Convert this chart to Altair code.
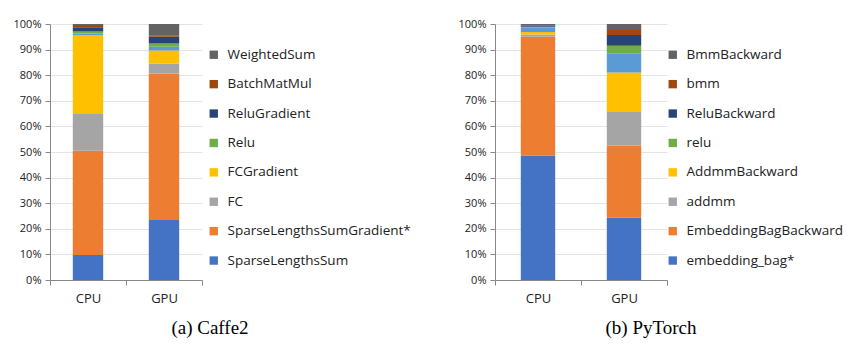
import altair as alt
import pandas as pd

platforms = ["CPU", "GPU"]

caffe_series = ["SparseLengthsSum", "SparseLengthsSumGradient*", "FC", "FCGradient",
                "Other ops", "Relu", "ReluGradient", "BatchMatMul", "WeightedSum"]
caffe_cpu = [9.8, 40.7, 14.6, 30.6, 0.6, 0.8, 1.6, 0.9, 0.4]
caffe_gpu = [23.4, 57.3, 3.9, 5.0, 1.5, 1.3, 2.6, 0.6, 4.4]

torch_series = ["embedding_bag*", "EmbeddingBagBackward", "addmm", "AddmmBackward",
                "Other ops", "relu", "ReluBackward", "bmm", "BmmBackward"]
torch_cpu = [48.6, 46.4, 0.9, 1.0, 1.6, 0.4, 0.4, 0.3, 0.4]
torch_gpu = [24.4, 28.1, 13.1, 15.5, 7.5, 2.9, 4.2, 2.0, 2.3]

palette = ["#4472C4", "#ED7D31", "#A5A5A5", "#FFC000", "#5B9BD5",
           "#70AD47", "#264478", "#9E480E", "#636363"]

FONT = "Open Sans"


def panel(series, cpu, gpu, title, width, dx, lx):
    rows = []
    for plat, vals in zip(platforms, [cpu, gpu]):
        for i, (s, v) in enumerate(zip(series, vals)):
            rows.append({"platform": plat, "op": s, "value": v, "idx": i})
    df = pd.DataFrame(rows)
    domain = list(reversed(series))
    rng = list(reversed(palette))
    legend_vals = [s for s in domain if s != "Other ops"]
    return alt.Chart(df).mark_bar(size=width * 0.2).encode(
        x=alt.X("platform:N", sort=platforms, title=None,
                scale=alt.Scale(paddingInner=0, paddingOuter=0),
                axis=alt.Axis(labelAngle=0, tickBand="extent", grid=False,
                              labelPadding=7, tickSize=5, domainColor="#888888",
                              tickColor="#888888", labelFontSize=13)),
        y=alt.Y("value:Q", stack="normalize", title=None,
                scale=alt.Scale(domain=[0, 1]),
                axis=alt.Axis(format=".0%", values=[i / 10 for i in range(11)],
                              tickSize=5, domainColor="#888888", tickColor="#888888",
                              gridColor="#e4e4e4", labelPadding=4, labelFontSize=11)),
        color=alt.Color("op:N", scale=alt.Scale(domain=domain, range=rng),
                        legend=alt.Legend(title=None, values=legend_vals,
                                          orient="none", legendX=lx, legendY=24,
                                          symbolType="square", symbolSize=70,
                                          symbolStrokeWidth=0, labelFontSize=13.5,
                                          labelFont=FONT, labelColor="#222222",
                                          labelOffset=7,
                                          rowPadding=14.4, labelLimit=300)),
        order=alt.Order("idx:Q", sort="ascending"),
    ).properties(
        width=width, height=256,
        title=alt.TitleParams(title, orient="bottom", anchor="middle", frame="group",
                              font="Liberation Serif", fontSize=19, fontWeight="normal",
                              color="black", dx=dx, offset=14),
    )


left = panel(caffe_series, caffe_cpu, caffe_gpu, "(a) Caffe2", 152, 84, 157)
right = panel(torch_series, torch_cpu, torch_gpu, "(b) PyTorch", 172, 70, 171)

chart = alt.hconcat(left, right, spacing=47).resolve_scale(
    color="independent", x="independent", y="independent"
).resolve_legend(color="independent").configure_view(stroke=None).configure_axis(
    labelFont=FONT, labelColor="#222222"
).properties(padding={"left": 13, "top": 18, "right": 0, "bottom": 0})

chart.save("out.html", embed_options={"renderer": "svg", "actions": False})
